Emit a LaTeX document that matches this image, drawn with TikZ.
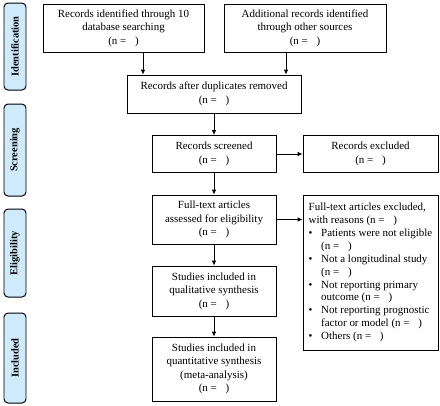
\documentclass[tikz,border=0pt]{standalone}
\usepackage{fontspec}
\setmainfont{Liberation Serif}
\usetikzlibrary{arrows.meta}
\definecolor{stagefill}{RGB}{207,234,251}
\newcommand{\nblank}{(n =\hspace{0.8em})}
\newcommand{\bul}[1]{\makebox[12.5bp][l]{\textbullet}#1}
\newcommand{\hang}[1]{\hspace*{12.5bp}#1}
\begin{document}
\begin{tikzpicture}[x=1bp,y=-1bp,
  box/.style={draw=black, line width=0.8pt, fill=white, inner sep=1bp, align=center,
    font=\fontsize{11}{13.5}\selectfont},
  stagebox/.style={draw=black, line width=1pt, fill=stagefill, rounded corners=4bp, rotate=90,
    inner sep=0pt, minimum height=22bp, font=\fontsize{10.5}{11}\selectfont\bfseries},
  arr/.style={line width=0.8pt, -{Latex[length=5bp,width=4.5bp]}}]
\useasboundingbox (0,0) rectangle (440,405);
% stage labels
\node[stagebox, minimum width=87bp] (s1) at (15,46.5) {Identification};
\node[stagebox, minimum width=92bp] (s2) at (15,150) {Screening};
\node[stagebox, minimum width=88bp] (s3) at (15,253) {Eligibility};
\node[stagebox, minimum width=90bp] (s4) at (15,358) {Included};
% boxes
\node[box, minimum width=161bp, minimum height=48bp] (A) at (123.5,28)
  {Records identified through 10\\database searching\\\nblank};
\node[box, minimum width=162bp, minimum height=48bp] (B) at (305,28)
  {Additional records identified\\through other sources\\\nblank};
\node[box, minimum width=174bp, minimum height=38bp] (C) at (214,94)
  {Records after duplicates removed\\\nblank};
\node[box, minimum width=124bp, minimum height=37bp] (D) at (214,154)
  {Records screened\\\nblank};
\node[box, minimum width=135bp, minimum height=37bp] (E) at (370.5,154)
  {Records excluded\\\nblank};
\node[box, minimum width=124bp, minimum height=49bp] (F) at (214,219.5)
  {Full-text articles\\assessed for eligibility\\\nblank};
\node[box, minimum width=135bp, minimum height=155bp, align=left,
  font=\fontsize{11}{12.9}\selectfont] (G) at (370.5,272.5)
  {Full-text articles excluded,\\with reasons \nblank\\
   \bul{Patients were not eligible}\\\hang{\nblank}\\
   \bul{Not a longitudinal study}\\\hang{\nblank}\\
   \bul{Not reporting primary}\\\hang{outcome \nblank}\\
   \bul{Not reporting prognostic}\\\hang{factor or model \nblank}\\
   \bul{Others \nblank}};
\node[box, minimum width=124bp, minimum height=50bp] (H) at (214,291)
  {Studies included in\\qualitative synthesis\\\nblank};
\node[box, minimum width=124bp, minimum height=64bp] (I) at (214,369)
  {Studies included in\\quantitative synthesis\\(meta-analysis)\\\nblank};
% connectors
\draw[arr] ([xshift=19.5bp]A.south) -- ([xshift=19.5bp]A.south |- C.north);
\draw[arr] ([xshift=-19bp]B.south) -- ([xshift=-19bp]B.south |- C.north);
\draw[arr] (C) -- (D);
\draw[arr] (D) -- (E);
\draw[arr] (D) -- (F);
\draw[arr] (F.east) -- (F.east -| G.west);
\draw[arr] (F) -- (H);
\draw[arr] (H) -- (I);
\end{tikzpicture}
\end{document}
